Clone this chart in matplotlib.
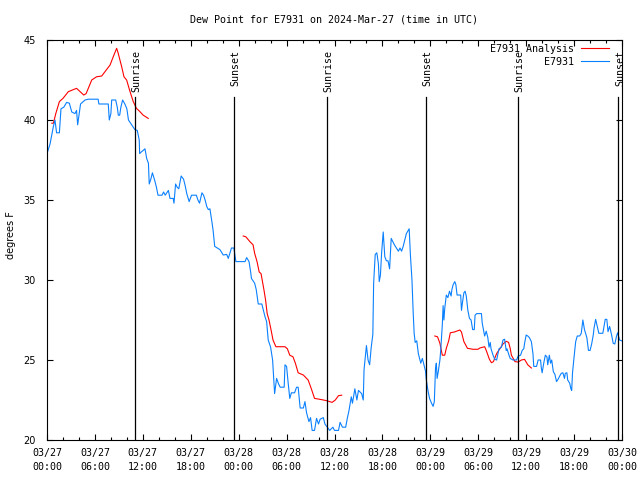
import numpy as np
import matplotlib.pyplot as plt

# time axis: hours since 2024-03-27 00:00 UTC
obs_hours = [0.0, 0.38, 0.8, 1.0, 1.2, 1.55, 1.75, 2.1, 2.46, 2.8, 3.1, 3.5, 3.7, 3.84, 4.0, 4.2,
             4.76, 5.17, 6.4, 6.5, 7.67, 7.8, 8.0, 8.1, 8.6, 8.8, 8.93, 9.1, 9.25, 9.47, 9.75,
             10.0, 10.2, 10.6, 11.0, 11.3, 11.55, 11.6, 11.8, 12.05, 12.27, 12.48, 12.7, 12.8,
             13.0, 13.2, 13.5, 13.7, 13.9, 14.4, 14.6, 14.8, 15.2, 15.4, 15.8, 15.9, 16.1, 16.3,
             16.5, 16.8, 17.1, 17.3, 17.5, 17.8, 18.1, 18.7, 18.9, 19.1, 19.4, 19.6, 19.8, 20.0,
             20.2, 20.4, 20.6, 20.8, 21.0, 21.65, 22.07, 22.5, 22.7, 23.1, 23.4, 23.65, 24.8,
             25.0, 25.3, 25.5, 25.6, 26.0, 26.2, 26.45, 26.9, 27.3, 27.5, 27.7, 28.0, 28.25,
             28.5, 28.75, 29.0, 29.2, 29.7, 29.8, 30.0, 30.2, 30.4, 30.6, 31.0, 31.25, 31.45,
             31.7, 32.1, 32.3, 32.5, 32.8, 33.0, 33.2, 33.5, 33.75, 34.0, 34.2, 34.6, 34.8,
             35.1, 35.4, 35.8, 36.0, 36.5, 36.7, 37.0, 37.4, 37.6, 37.8, 38.1, 38.25, 38.55,
             38.8, 39.0, 39.2, 39.4, 39.6, 39.7, 40.0, 40.2, 40.4, 40.6, 40.8, 40.9, 41.1,
             41.3, 41.5, 41.6, 41.75, 41.9, 42.1, 42.3, 42.5, 42.7, 42.9, 43.1, 43.5, 44.0,
             44.2, 44.4, 44.6, 45.0, 45.35, 45.5, 45.7, 45.85, 45.97, 46.1, 46.3, 46.5, 46.8,
             47.0, 47.2, 47.4, 47.5, 47.7, 47.9, 48.15, 48.35, 48.5, 48.65, 48.75, 48.85,
             49.0, 49.2, 49.3, 49.5, 49.6, 49.7, 49.8, 50.0, 50.2, 50.4, 50.6, 50.7, 50.85,
             51.06, 51.2, 51.35, 51.8, 51.9, 52.0, 52.2, 52.35, 52.5, 52.7, 52.9, 53.1, 53.3,
             53.5, 53.6, 53.8, 54.4, 54.5, 54.65, 54.8, 55.0, 55.2, 55.35, 55.5, 55.6, 55.85,
             56.07, 56.3, 56.6, 56.9, 57.1, 57.3, 57.5, 57.6, 57.85, 58.0, 58.35, 58.8, 59.0,
             59.3, 59.5, 59.7, 59.8, 60.0, 60.2, 60.4, 60.65, 60.85, 60.95, 61.3, 61.5, 61.8,
             61.9, 62.0, 62.2, 62.4, 62.6, 62.7, 62.9, 63.05, 63.2, 63.4, 63.6, 63.8, 64.0,
             64.2, 64.4, 64.6, 64.8, 64.9, 65.1, 65.2, 65.45, 65.6, 65.7, 65.8, 65.96, 66.2,
             66.4, 66.7, 66.9, 67.1, 67.3, 67.6, 67.8, 68.0, 68.2, 68.4, 68.5, 68.7, 68.9,
             69.1, 69.6, 69.75, 69.9, 70.1, 70.25, 70.45, 70.7, 70.9, 71.1, 71.3, 71.45, 71.7,
             71.95]
obs_dewpt = [37.9, 38.5, 39.6, 40.0, 39.2, 39.2, 40.7, 40.8, 41.1, 41.05, 40.5, 40.4, 40.6, 39.7,
             40.3, 41.0, 41.25, 41.3, 41.3, 41.0, 41.0, 40.0, 40.4, 41.25, 41.25, 40.8, 40.3,
             40.3, 40.8, 41.25, 41.0, 40.7, 40.0, 39.7, 39.4, 39.35, 38.75, 37.9, 38.0, 38.1,
             38.2, 37.6, 37.3, 36.0, 36.3, 36.7, 36.2, 35.8, 35.3, 35.3, 35.5, 35.3, 35.6, 35.1,
             35.1, 34.8, 36.0, 35.8, 35.7, 36.5, 36.3, 35.9, 35.4, 34.9, 35.3, 35.3, 35.0, 34.8,
             35.45, 35.3, 35.0, 34.6, 34.4, 34.45, 33.8, 33.1, 32.1, 31.9, 31.56, 31.6, 31.35,
             32.0, 32.0, 31.15, 31.15, 31.4, 31.15, 30.5, 30.1, 29.8, 29.4, 28.5, 28.5, 27.7,
             27.4, 26.25, 25.8, 25.0, 22.9, 23.85, 23.5, 23.3, 23.3, 24.7, 24.6, 23.55, 22.6,
             22.95, 22.95, 23.3, 23.3, 22.0, 22.0, 22.4, 21.7, 21.15, 21.4, 20.6, 20.6, 21.35,
             21.0, 21.3, 21.4, 21.0, 20.8, 20.6, 20.8, 20.6, 20.6, 21.1, 20.8, 20.8, 21.35,
             21.8, 22.7, 22.3, 23.2, 22.5, 23.1, 23.0, 22.9, 22.5, 24.4, 25.9, 25.0, 24.7, 25.8,
             26.6, 29.8, 31.6, 31.7, 31.0, 29.9, 30.3, 31.7, 33.0, 31.45, 31.2, 31.2, 30.7,
             32.6, 32.2, 31.8, 32.0, 31.8, 32.1, 32.9, 33.2, 31.6, 30.0, 28.0, 26.7, 26.1, 26.2,
             25.4, 24.8, 25.1, 24.7, 24.3, 23.75, 23.1, 22.6, 22.3, 22.1, 22.4, 24.5, 24.8,
             23.85, 24.3, 25.0, 25.6, 27.2, 28.4, 27.5, 28.2, 29.06, 28.9, 29.3, 29.0, 29.4,
             29.7, 29.9, 29.7, 29.06, 29.06, 28.1, 28.5, 29.2, 29.3, 29.0, 28.1, 27.6, 27.5,
             26.9, 26.9, 27.8, 27.9, 27.9, 27.3, 26.9, 26.5, 26.8, 26.4, 25.8, 26.1, 25.7, 25.3,
             25.04, 25.0, 25.7, 25.8, 26.25, 26.3, 25.6, 25.7, 25.3, 25.1, 25.0, 25.0, 25.25,
             25.3, 25.6, 25.7, 26.04, 26.56, 26.5, 26.4, 26.15, 25.4, 24.6, 24.6, 25.0, 25.0,
             24.5, 24.2, 24.8, 25.3, 25.2, 24.7, 25.3, 24.8, 25.0, 24.27, 24.1, 23.65, 23.8,
             24.0, 24.17, 24.2, 23.85, 24.17, 24.2, 23.75, 23.55, 23.2, 23.1, 24.17, 25.0, 26.15,
             26.5, 26.5, 26.67, 27.5, 26.9, 26.4, 25.6, 25.6, 26.0, 26.56, 27.0, 27.54, 27.1,
             26.67, 26.67, 27.1, 27.54, 27.54, 26.77, 27.1, 26.56, 26.04, 26.0, 26.46, 26.7,
             26.25, 26.2]

nan = np.nan
ana_hours = [0.6, 0.8, 1.1, 1.55, 2.0, 2.67, 3.7, 4.6, 4.9, 5.6, 6.2, 6.85, 7.9, 8.3, 8.72, 8.9,
             9.35, 9.64, 9.97, 10.4, 10.8, 11.2, 11.64, 12.05, 12.68, 18.0,
             24.57, 24.9, 25.4, 25.8, 26.0, 26.3, 26.57, 26.8, 27.16, 27.37, 27.57, 27.8, 28.1,
             28.3, 28.66, 29.8, 30.1, 30.4, 30.8, 31.1, 31.45, 32.1, 32.7, 33.1, 33.5, 34.2,
             35.0, 35.7, 36.1, 36.5, 36.9, 42.0,
             48.56, 48.9, 49.2, 49.5, 49.8, 50.0, 50.3, 50.5, 51.0, 51.7, 51.9, 52.2, 52.65,
             53.35, 53.97, 54.2, 54.8, 55.0, 55.4, 55.65, 55.9, 56.3, 56.7, 57.1, 57.5, 57.8,
             58.0, 58.15, 58.6, 59.0, 59.4, 59.8, 60.2, 60.65]
ana_dewpt = [39.8, 39.8, 40.4, 41.15, 41.35, 41.77, 41.98, 41.56, 41.65, 42.5, 42.7, 42.75, 43.44,
             43.96, 44.48, 44.2, 43.33, 42.7, 42.5, 41.77, 41.15, 40.73, 40.52, 40.3, 40.1, nan,
             32.75, 32.7, 32.4, 32.2, 31.67, 31.15, 30.5, 30.4, 29.4, 28.75, 27.9, 27.5, 26.77,
             26.25, 25.83, 25.83, 25.7, 25.3, 25.2, 24.8, 24.2, 24.06, 23.75, 23.2, 22.6, 22.54,
             22.46, 22.35, 22.5, 22.77, 22.8, nan,
             26.5, 26.45, 26.04, 25.3, 25.3, 25.73, 26.2, 26.7, 26.75, 26.875, 26.75, 26.15,
             25.73, 25.67, 25.67, 25.75, 25.83, 25.6, 25.04, 24.83, 24.9, 25.4, 25.7, 26.0,
             26.17, 26.1, 25.73, 25.3, 24.9, 24.87, 25.0, 25.04, 24.7, 24.5]

sun_hours = [11.05, 23.44, 35.04, 47.47, 58.99, 71.55]
sun_names = ['Sunrise', 'Sunset', 'Sunrise', 'Sunset', 'Sunrise', 'Sunset']

tick_hours = list(range(0, 73, 6))
tick_labels = ['03/27\n00:00', '03/27\n06:00', '03/27\n12:00', '03/27\n18:00',
               '03/28\n00:00', '03/28\n06:00', '03/28\n12:00', '03/28\n18:00',
               '03/29\n00:00', '03/29\n06:00', '03/29\n12:00', '03/29\n18:00',
               '03/30\n00:00']

mono = 'DejaVu Sans Mono'
plt.rcParams['axes.linewidth'] = 0.8

fig = plt.figure(figsize=(6.4, 4.8), dpi=100)
ax = fig.add_axes([47 / 640, 40 / 480, 575 / 640, 400 / 480])

ax.plot(ana_hours, ana_dewpt, color='#ff0000', lw=0.8, label='E7931 Analysis')
ax.plot(obs_hours, obs_dewpt, color='#0a80ff', lw=0.8, label='E7931')

for h, name in zip(sun_hours, sun_names):
    ax.axvline(h, ymax=0.857, color='black', lw=0.9)
    ax.text(h + 0.2, 0.975, name, transform=ax.get_xaxis_transform(), rotation=90,
            ha='center', va='top', fontfamily=mono, fontsize=7.2)

ax.set_xlim(0, 72)
ax.set_ylim(20, 45)
ax.set_xticks(tick_hours)
ax.set_xticklabels(tick_labels, fontfamily=mono, fontsize=7.2, linespacing=1.5)
ax.set_xticks(range(0, 73, 2), minor=True)
ax.set_yticks(range(20, 46, 5))
ax.set_yticklabels([str(v) for v in range(20, 46, 5)], fontsize=7)
ax.tick_params(axis='both', which='both', direction='in', top=True, right=True, width=0.8)
ax.tick_params(axis='x', which='major', length=4.5, pad=6)
ax.tick_params(axis='x', which='minor', length=2.2)
ax.tick_params(axis='y', length=4, pad=8)

ax.legend(loc='upper right', bbox_to_anchor=(0.977, 0.99), frameon=False, markerfirst=False,
          prop={'family': mono, 'size': 7.2}, handlelength=2.8, handletextpad=0.7,
          labelspacing=0.3, borderpad=0, borderaxespad=0)

fig.text(334 / 640, 1 - 20 / 480, 'Dew Point for E7931 on 2024-Mar-27 (time in UTC)',
         ha='center', va='center', fontfamily=mono, fontsize=7.2)
fig.text(11 / 640, 1 - 235 / 480, 'degrees F', rotation=90, ha='center', va='center', fontsize=7)

fig.savefig('out.png', dpi=100)
